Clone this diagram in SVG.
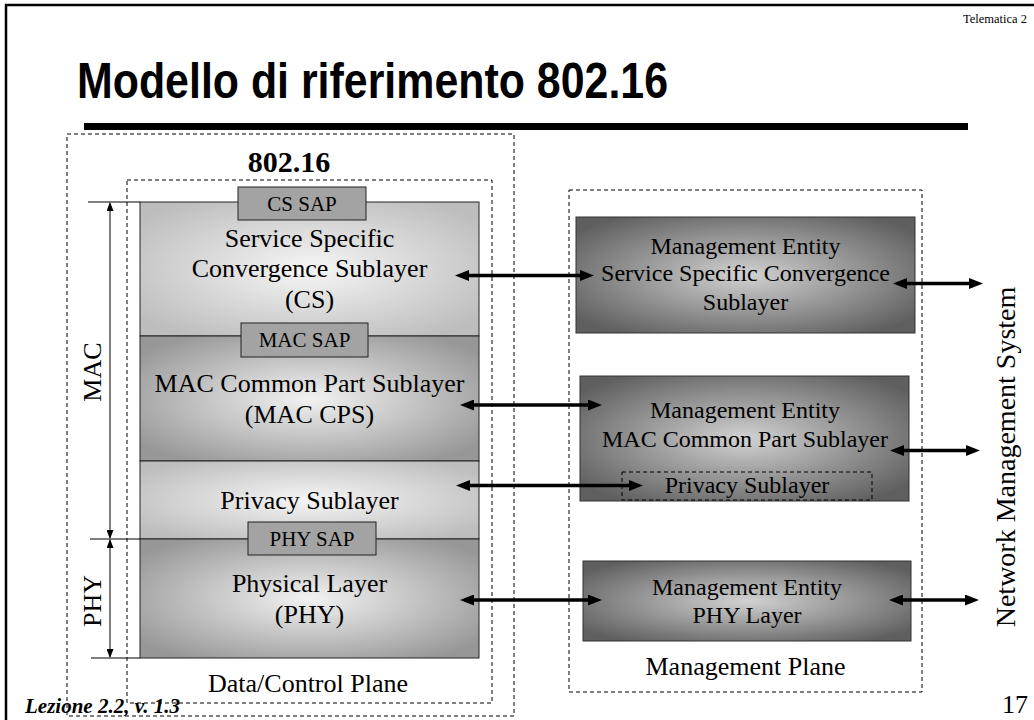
<svg xmlns="http://www.w3.org/2000/svg" width="1034" height="720" viewBox="0 0 1034 720">
<style>
.serif{font-family:"Liberation Serif","Times New Roman",serif;fill:#000}
.lbl{font-size:26px;text-anchor:middle}
.me{font-size:24px;text-anchor:middle}
.sap{font-size:21px;text-anchor:middle}
.dash{fill:none;stroke:#000;stroke-width:1;stroke-dasharray:4,3}
.layer{stroke:#222;stroke-width:1}
.sapbox{fill:#a3a3a3;stroke:#222;stroke-width:1}
.mbox{stroke:#333;stroke-width:1}
.thin{stroke:#000;stroke-width:1;fill:none}
.big{stroke:#000;stroke-width:3.5;fill:none;marker-start:url(#ah);marker-end:url(#ah)}
.dim{stroke:#000;stroke-width:1;fill:none;marker-start:url(#sh);marker-end:url(#sh)}
</style>
<defs>
<radialGradient id="gLight" cx="50%" cy="50%" r="62%">
<stop offset="0" stop-color="#f6f6f6"/><stop offset="1" stop-color="#bdbdbd"/>
</radialGradient>
<radialGradient id="gDark" cx="50%" cy="50%" r="62%">
<stop offset="0" stop-color="#f2f2f2"/><stop offset="1" stop-color="#979797"/>
</radialGradient>
<radialGradient id="gMgmt" cx="50%" cy="50%" r="62%">
<stop offset="0" stop-color="#d2d2d2"/><stop offset="1" stop-color="#5f5f5f"/>
</radialGradient>
<marker id="ah" markerUnits="userSpaceOnUse" markerWidth="14" markerHeight="11" refX="4" refY="5.5" orient="auto-start-reverse">
<path d="M0,0 L14,5.5 L0,11 z" fill="#000"/>
</marker>
<marker id="sh" markerUnits="userSpaceOnUse" markerWidth="9" markerHeight="7" refX="8" refY="3.5" orient="auto-start-reverse">
<path d="M0,0 L9,3.5 L0,7 z" fill="#000"/>
</marker>
</defs>
<rect width="1034" height="720" fill="#fff"/>
<path d="M6,720 V5 H1034" fill="none" stroke="#000" stroke-width="2.5"/>
<text x="1027" y="23" class="serif" font-size="12.5" text-anchor="end">Telematica 2</text>
<text x="77" y="98" font-family="'Liberation Sans',Arial,sans-serif" font-weight="bold" font-size="50" fill="#000" textLength="591" lengthAdjust="spacingAndGlyphs">Modello di riferimento 802.16</text>
<rect x="84" y="123" width="884" height="7" fill="#000"/>

<g id="data-control-plane">
<rect class="dash" x="67" y="134" width="447" height="582"/>
<rect class="dash" x="127" y="180" width="365" height="523"/>
<text x="289" y="172" class="serif" font-size="30" font-weight="bold" text-anchor="middle">802.16</text>
<text x="308" y="692" class="serif lbl">Data/Control Plane</text>
</g>

<g id="cs-layer">
<rect class="layer" x="140" y="202" width="339" height="134" fill="url(#gLight)"/>
<text x="309.5" y="247" class="serif lbl">Service Specific</text>
<text x="309.5" y="277" class="serif lbl">Convergence Sublayer</text>
<text x="309.5" y="308" class="serif lbl">(CS)</text>
</g>
<g id="mac-cps-layer">
<rect class="layer" x="140" y="336" width="339" height="125" fill="url(#gDark)"/>
<text x="309.5" y="392" class="serif lbl">MAC Common Part Sublayer</text>
<text x="309.5" y="423" class="serif lbl">(MAC CPS)</text>
</g>
<g id="privacy-layer">
<rect class="layer" x="140" y="461" width="339" height="78" fill="url(#gLight)"/>
<text x="309.5" y="509" class="serif lbl">Privacy Sublayer</text>
</g>
<g id="phy-layer">
<rect class="layer" x="140" y="539" width="339" height="119" fill="url(#gDark)"/>
<text x="309.5" y="592" class="serif lbl">Physical Layer</text>
<text x="309.5" y="623" class="serif lbl">(PHY)</text>
</g>
<g id="cs-sap">
<rect class="sapbox" x="238" y="187" width="128" height="33"/>
<text x="302" y="211" class="serif sap">CS SAP</text>
</g>
<g id="mac-sap">
<rect class="sapbox" x="241" y="323" width="127" height="34"/>
<text x="304.5" y="347" class="serif sap">MAC SAP</text>
</g>
<g id="phy-sap">
<rect class="sapbox" x="248" y="522" width="128" height="33"/>
<text x="312" y="546" class="serif sap">PHY SAP</text>
</g>

<g id="dimension-mac">
<line class="thin" x1="88" y1="202" x2="140" y2="202"/>
<line class="thin" x1="90" y1="539" x2="140" y2="539"/>
<line class="thin" x1="91" y1="658" x2="140" y2="658"/>
<line class="dim" x1="110" y1="203" x2="110" y2="538"/>
<text class="serif lbl" transform="translate(101,372) rotate(-90)">MAC</text>
</g>
<g id="dimension-phy">
<line class="dim" x1="110" y1="540" x2="110" y2="657"/>
<text class="serif lbl" transform="translate(101,601) rotate(-90)">PHY</text>
</g>

<g id="management-plane">
<rect class="dash" x="569" y="190" width="353" height="502"/>
<text x="745.5" y="675" class="serif lbl">Management Plane</text>
</g>
<g id="me-cs">
<rect class="mbox" x="576" y="217" width="339" height="116" fill="url(#gMgmt)"/>
<text x="745.5" y="254" class="serif me">Management Entity</text>
<text x="745.5" y="281" class="serif me">Service Specific Convergence</text>
<text x="745.5" y="310" class="serif me">Sublayer</text>
</g>
<g id="me-mac">
<rect class="mbox" x="580" y="376" width="329" height="125" fill="url(#gMgmt)"/>
<text x="745" y="418" class="serif me">Management Entity</text>
<text x="745" y="447" class="serif me">MAC Common Part Sublayer</text>
<rect class="dash" x="622" y="472" width="250" height="28"/>
<text x="747" y="493" class="serif me">Privacy Sublayer</text>
</g>
<g id="me-phy">
<rect class="mbox" x="583" y="561" width="328" height="80" fill="url(#gMgmt)"/>
<text x="747" y="595" class="serif me">Management Entity</text>
<text x="747" y="623" class="serif me">PHY Layer</text>
</g>
<g id="nms">
<text class="serif" font-size="28" text-anchor="middle" transform="translate(1015,457) rotate(-90)">Network Management System</text>
</g>

<g id="connectors">
<line class="big" x1="465" y1="275.5" x2="584" y2="275.5"/>
<line class="big" x1="470" y1="405" x2="592" y2="405"/>
<line class="big" x1="466" y1="485.5" x2="633" y2="485.5"/>
<line class="big" x1="470" y1="600" x2="592" y2="600"/>
<line class="big" x1="903" y1="283.5" x2="973" y2="283.5"/>
<line class="big" x1="900" y1="450.5" x2="970" y2="450.5"/>
<line class="big" x1="899" y1="600" x2="969" y2="600"/>
</g>

<text x="25" y="713" class="serif" font-size="21" font-weight="bold" font-style="italic">Lezione 2.2, v. 1.3</text>
<text x="1028" y="713" class="serif" font-size="26" text-anchor="end">17</text>
</svg>
